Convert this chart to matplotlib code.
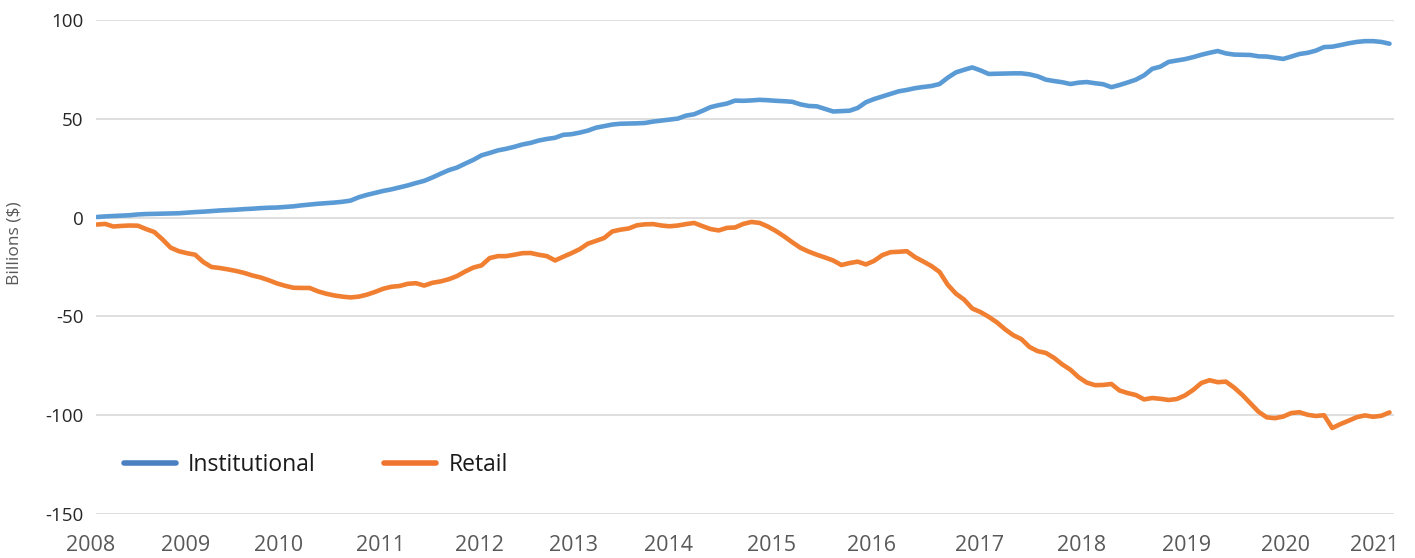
import matplotlib
matplotlib.use("Agg")
import matplotlib.pyplot as plt
from matplotlib.lines import Line2D
import numpy as np

# Monthly cumulative flows (billions $), Jan 2008 onward
institutional = [
    0.3, 0.6, 0.8, 1.0, 1.2, 1.6, 1.8, 1.9, 2.0, 2.1, 2.2, 2.5,
    2.8, 3.0, 3.3, 3.6, 3.8, 4.0, 4.3, 4.5, 4.8, 5.0, 5.1, 5.4,
    5.7, 6.2, 6.6, 7.0, 7.3, 7.6, 8.0, 8.6, 10.3, 11.5, 12.5, 13.5,
    14.3, 15.3, 16.3, 17.5, 18.6, 20.3, 22.2, 24.0, 25.3, 27.3, 29.2, 31.5,
    32.7, 34.0, 34.8, 35.8, 37.0, 37.8, 39.0, 39.8, 40.4, 41.9, 42.2, 43.0,
    44.0, 45.5, 46.3, 47.1, 47.5, 47.6, 47.7, 47.9, 48.6, 49.1, 49.6, 50.1,
    51.6, 52.3, 54.0, 55.9, 56.9, 57.7, 59.2, 59.1, 59.3, 59.6, 59.4, 59.1,
    58.9, 58.6, 57.3, 56.5, 56.3, 55.0, 53.7, 53.9, 54.1, 55.5, 58.4, 60.0,
    61.3, 62.6, 63.9, 64.6, 65.5, 66.1, 66.6, 67.6, 70.8, 73.5, 74.8, 76.0,
    74.5, 72.7, 72.8, 72.9, 73.0, 73.0, 72.5, 71.5, 69.8, 69.1, 68.5, 67.6,
    68.3, 68.6, 68.0, 67.5, 66.0, 67.1, 68.4, 69.8, 72.0, 75.3, 76.4, 78.8,
    79.5, 80.2, 81.2, 82.4, 83.4, 84.3, 83.1, 82.5, 82.4, 82.3, 81.6, 81.5,
    80.9, 80.3, 81.5, 82.8, 83.4, 84.5, 86.3, 86.5, 87.3, 88.2, 88.9, 89.3,
    89.3, 88.9, 88.0,
]

retail = [
    -3.5, -3.2, -4.5, -4.2, -4.0, -4.1, -5.8, -7.3, -11.0, -15.2, -17.0, -18.0,
    -18.8, -22.5, -25.0, -25.5, -26.2, -27.0, -28.0, -29.3, -30.3, -31.7, -33.3, -34.5,
    -35.5, -35.6, -35.6, -37.3, -38.5, -39.4, -40.0, -40.4, -40.0, -39.0, -37.6, -36.0,
    -35.0, -34.6, -33.5, -33.2, -34.4, -33.0, -32.3, -31.2, -29.6, -27.3, -25.3, -24.2,
    -20.5, -19.5, -19.5, -18.8, -18.0, -17.9, -18.8, -19.5, -21.7, -19.8, -18.0, -16.0,
    -13.2, -11.8, -10.3, -7.0, -6.1, -5.5, -3.9, -3.4, -3.3, -4.0, -4.4, -4.0,
    -3.3, -2.7, -4.3, -5.8, -6.5, -5.2, -5.0, -3.2, -2.2, -2.7, -4.5, -6.8,
    -9.5, -12.5, -15.3, -17.2, -18.8, -20.2, -21.7, -24.0, -23.0, -22.3, -23.7, -21.9,
    -19.0, -17.5, -17.3, -17.0, -20.0, -22.2, -24.5, -27.5, -34.0, -38.5, -41.5, -46.0,
    -47.8, -50.2, -53.0, -56.5, -59.5, -61.5, -65.5, -67.6, -68.5, -71.0, -74.3, -77.0,
    -80.8, -83.5, -84.8, -84.7, -84.2, -87.5, -88.8, -89.8, -92.0, -91.3, -91.7, -92.3,
    -91.8, -90.0, -87.2, -83.7, -82.3, -83.3, -83.0, -86.0, -89.7, -94.0, -98.3, -101.1,
    -101.5, -100.7, -98.9, -98.5, -99.8, -100.4, -100.0, -106.5, -104.5, -102.8, -101.0, -100.1,
    -100.8, -100.3, -98.6,
]

year_labels = ['2008', '2009', '2010', '2011', '2012', '2013', '2014',
               '2015', '2016', '2017', '2018', '2019', '2020', '2021']
year_label_pos = [-0.73, 10.8, 22.2, 34.7, 46.8, 58.2, 69.9,
                  82.4, 94.7, 107.9, 120.4, 133.2, 145.3, 156.2]
y_ticks = [100, 50, 0, -50, -100, -150]

FONT = ['Open Sans', 'DejaVu Sans']
plt.rcParams['font.family'] = FONT

BLUE = '#5B9BD5'
ORANGE = '#F07F32'
BLUE_LEG = '#4A7FC1'
ORANGE_LEG = '#F0732E'

fig = plt.figure(figsize=(14.15, 5.58), dpi=100)
ax = fig.add_axes([96/1415, 1-514/558, (1394-96)/1415, (514-20)/558])

x = np.arange(len(institutional))
ax.plot(x, institutional, color=BLUE, lw=3.3, solid_joinstyle='round',
        solid_capstyle='round', zorder=3)
ax.plot(x, retail, color=ORANGE, lw=3.3, solid_joinstyle='round',
        solid_capstyle='round', zorder=3)

ax.set_xlim(-0.12, 158.55)
ax.set_ylim(-150, 100)
ax.set_yticks(y_ticks)
ax.set_yticklabels([str(v) for v in y_ticks], fontsize=13.5, color='#262626')
ax.tick_params(axis='y', length=0, pad=9)
ax.set_xticks([])
ax.grid(axis='y', color='#D9D9D9', lw=1.2, zorder=0)
for s in ax.spines.values():
    s.set_visible(False)

for lab, pos in zip(year_labels, year_label_pos):
    ax.text(pos, -0.063, lab, transform=ax.get_xaxis_transform(),
            ha='center', va='center', fontsize=15.5, color='#595959')

ax.set_ylabel('Billions ($)', fontsize=12.5, color='#595959')
ax.yaxis.set_label_coords(-0.057, 0.549)

handles = [Line2D([0], [0], color=BLUE_LEG, lw=4, solid_capstyle='round'),
           Line2D([0], [0], color=ORANGE_LEG, lw=4, solid_capstyle='round')]
leg = ax.legend(handles, ['Institutional', 'Retail'], ncol=2, frameon=False,
                loc='center left', bbox_to_anchor=((124-96)/1298, (514-465)/494),
                fontsize=16.5, handlelength=2.27, handletextpad=0.52,
                columnspacing=3.0, borderaxespad=0, borderpad=0)
for t in leg.get_texts():
    t.set_color('#1a1a1a')

fig.savefig('out.png', dpi=100, facecolor='white')
